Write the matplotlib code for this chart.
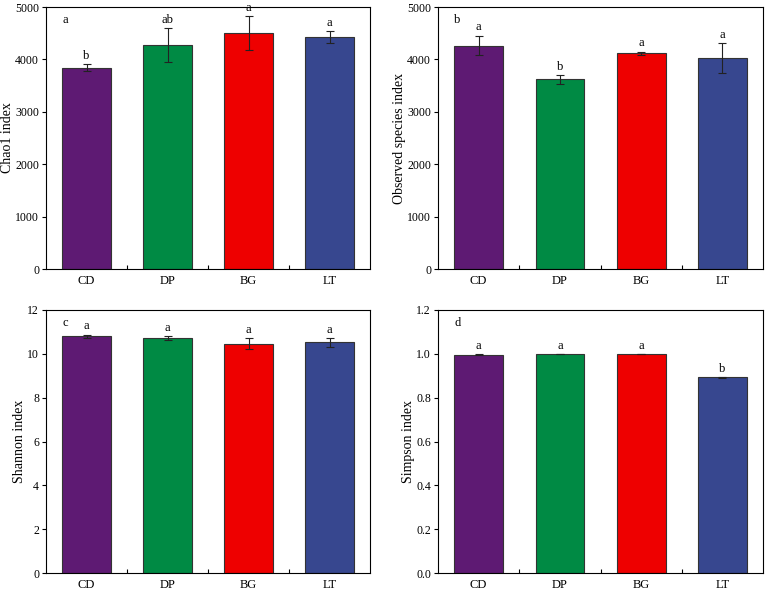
import numpy as np
import matplotlib
matplotlib.use("Agg")
import matplotlib.pyplot as plt

plt.rcParams["font.family"] = ["Liberation Serif", "DejaVu Serif"]

groups = ["CD", "DP", "BG", "LT"]
colors = ["#5E1A73", "#008A44", "#EE0000", "#37478F"]

chao1 = [3845, 4280, 4500, 4425]
chao1_err = [75, 325, 330, 115]
chao1_sig = ["b", "ab", "a", "a"]

observed = [4265, 3620, 4120, 4035]
observed_err = [190, 90, 30, 285]
observed_sig = ["a", "b", "a", "a"]

shannon = [10.81, 10.73, 10.46, 10.52]
shannon_err = [0.07, 0.1, 0.26, 0.22]
shannon_sig = ["a", "a", "a", "a"]

simpson = [0.996, 0.998, 0.998, 0.894]
simpson_err = [0.003, 0.001, 0.001, 0.002]
simpson_sig = ["a", "a", "a", "b"]

panels = [
    ("a", "Chao1 index", chao1, chao1_err, chao1_sig, 5000, 1000, "%d"),
    ("b", "Observed species index", observed, observed_err, observed_sig, 5000, 1000, "%d"),
    ("c", "Shannon index", shannon, shannon_err, shannon_sig, 12, 2, "%d"),
    ("d", "Simpson index", simpson, simpson_err, simpson_sig, 1.2, 0.2, "%.1f"),
]

# axes boxes in pixels: left, top, right, bottom
W, H = 767, 590
boxes = [(46, 7, 370, 269), (438, 7, 763, 269), (46, 310, 370, 573), (438, 310, 763, 573)]

fig = plt.figure(figsize=(W / 100, H / 100), dpi=100)
x = np.arange(len(groups))

for (tag, ylabel, vals, errs, sig, ymax, step, fmt), (l, t, r, b) in zip(panels, boxes):
    ax = fig.add_axes([l / W, 1 - b / H, (r - l) / W, (b - t) / H])
    ax.bar(x, vals, width=0.6, color=colors, edgecolor="#333333", linewidth=0.8,
           yerr=errs, error_kw=dict(ecolor="#222222", elinewidth=0.8, capsize=3, capthick=0.8))
    for xi, v, e, s in zip(x, vals, errs, sig):
        ax.annotate(s, (xi, v + e), xytext=(0, 1.5), textcoords="offset points",
                    ha="center", va="bottom", fontsize=9)
    ax.set_xlim(-0.5, 3.5)
    ax.set_ylim(0, ymax)
    ax.set_yticks(np.arange(0, ymax + step / 2, step))
    ax.yaxis.set_major_formatter(matplotlib.ticker.FormatStrFormatter(fmt))
    ax.set_xticks(x)
    ax.set_xticklabels(groups)
    ax.set_xticks([0.5, 1.5, 2.5], minor=True)
    ax.tick_params(axis="x", which="major", length=0, labelsize=9, pad=4)
    ax.tick_params(axis="x", which="minor", direction="in", length=3, width=0.8)
    ax.tick_params(axis="y", direction="out", length=3, width=0.8, labelsize=8.5, pad=2)
    ax.set_ylabel(ylabel, fontsize=10, labelpad=1)
    for sp in ax.spines.values():
        sp.set_linewidth(0.8)
    ax.text(0.05, 0.975, tag, transform=ax.transAxes, ha="left", va="top", fontsize=9)

fig.savefig("out.png", dpi=100)
